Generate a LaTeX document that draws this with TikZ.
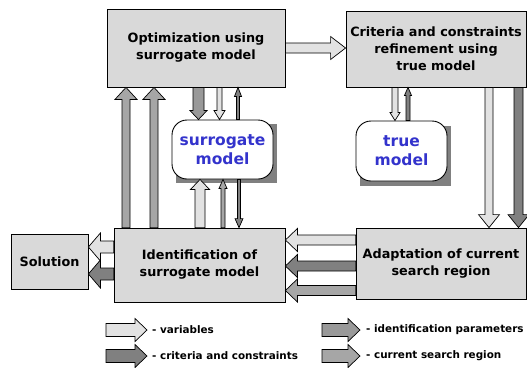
\documentclass[tikz,border=0pt]{standalone}
\usepackage{fontspec}
\setmainfont{DejaVu Sans}
\usetikzlibrary{calc, backgrounds}

\definecolor{boxgray}{HTML}{D9D9D9}
\definecolor{vargray}{HTML}{E2E2E2}
\definecolor{critgray}{HTML}{808080}
\definecolor{idgray}{HTML}{999999}
\definecolor{reggray}{HTML}{A6A6A6}
\definecolor{modelblue}{HTML}{3333CC}

\tikzset{
  box/.style={rectangle, draw=black, line width=0.8pt, fill=boxgray, align=center,
    inner sep=1pt, font=\bfseries\fontsize{12.8}{17}\selectfont},
  model/.style={rectangle, rounded corners=15pt, draw=black, line width=0.9pt, fill=white,
    align=center, text=modelblue, font=\bfseries\fontsize{15.5}{19}\selectfont},
  % block arrow: fill, half shaft, half head, head length
  blk/.style n args={4}{draw=black, line width=0.7pt, fill=#1,
    to path={let \p1=($(\tikztotarget)!#4!(\tikztostart)$) in
      ($(\tikztostart)!#2!90:(\tikztotarget)$) -- ($(\p1)!#2!90:(\tikztotarget)$)
      -- ($(\p1)!#3!90:(\tikztotarget)$) -- (\tikztotarget)
      -- ($(\p1)!#3!-90:(\tikztotarget)$) -- ($(\p1)!#2!-90:(\tikztotarget)$)
      -- ($(\tikztostart)!#2!-90:(\tikztotarget)$) -- cycle}},
  legend/.style={anchor=west, inner sep=0pt, font=\bfseries\fontsize{10.4}{12}\selectfont}
}

\begin{document}
\begin{tikzpicture}[x=1pt, y=-1pt]
\useasboundingbox (0,0) rectangle (527,367);

\node[box, minimum width=178, minimum height=78] (opt) at (196,48) {Optimization using\\surrogate model};
\node[box, minimum width=180, minimum height=76] (crit) at (436,49) {Criteria and constraints\\refinement using\\true model};
\node[box, minimum width=171, minimum height=74] (ident) at (199.5,265) {Identification of\\surrogate model};
\node[box, minimum width=170, minimum height=71] (adapt) at (441,263.5) {Adaptation of current\\search region};
\node[box, minimum width=77, minimum height=55] (sol) at (49.5,261.5) {Solution};
\node[model, minimum width=101, minimum height=59] (surr) at (222.5,149.5) {surrogate\\model};
\node[model, minimum width=91, minimum height=60] (truemodel) at (401.5,151) {true\\model};

\begin{scope}[on background layer]
  \fill[critgray] ([shift={(4,4)}]surr.south west) rectangle ([shift={(4,4)}]surr.north east);
  \fill[critgray] ([shift={(4,5)}]truemodel.south west) rectangle ([shift={(4,5)}]truemodel.north east);
\end{scope}

% arrow columns and rows
\foreach \n/\x in {up1/126, up2/154, od/198.5, ov/219.5, so/238, iv/200, ip/223, si/239,
                   ct/395, tc/408, cv/489, cc/518.5}
  \coordinate (\n) at (\x,0);
\foreach \n/\y in {av/240, ac/266, ar/290.5, sv/247, sc/274}
  \coordinate (\n) at (0,\y);

\draw[blk={vargray}{5pt}{11.5pt}{15pt}] (opt.east) to (crit.west |- opt.east);

\draw[blk={reggray}{4pt}{11pt}{12pt}] (ident.north -| up1) to (opt.south -| up1);
\draw[blk={reggray}{4pt}{11pt}{12pt}] (ident.north -| up2) to (opt.south -| up2);
\draw[blk={idgray}{5.5pt}{8.5pt}{9pt}] (opt.south -| od) to (surr.north -| od);
\draw[blk={vargray}{2.5pt}{5.5pt}{9pt}] (opt.south -| ov) to (surr.north -| ov);
\draw[blk={critgray}{1.5pt}{3.5pt}{9pt}] (surr.north -| so) to (opt.south -| so);
\draw[blk={vargray}{5pt}{9.5pt}{10pt}] (ident.north -| iv) to (surr.south -| iv);
\draw[blk={reggray}{2pt}{4pt}{9pt}] (ident.north -| ip) to (surr.south -| ip);
\draw[blk={critgray}{1.5pt}{4pt}{9pt}] (surr.south -| si) to (ident.north -| si);

\draw[blk={vargray}{3pt}{5pt}{8pt}] (crit.south -| ct) to (truemodel.north -| ct);
\draw[blk={critgray}{2pt}{3.5pt}{8pt}] (truemodel.north -| tc) to (crit.south -| tc);
\draw[blk={vargray}{4pt}{10.5pt}{13pt}] (crit.south -| cv) to (adapt.north -| cv);
\draw[blk={critgray}{4.5pt}{10.5pt}{13pt}] (crit.south -| cc) to (adapt.north -| cc);

\draw[blk={vargray}{5pt}{11.5pt}{12pt}] (adapt.west |- av) to (ident.east |- av);
\draw[blk={critgray}{5pt}{11.5pt}{12pt}] (adapt.west |- ac) to (ident.east |- ac);
\draw[blk={reggray}{5pt}{11.5pt}{12pt}] (adapt.west |- ar) to (ident.east |- ar);
\draw[blk={vargray}{6pt}{14pt}{12pt}] (ident.west |- sv) to (sol.east |- sv);
\draw[blk={critgray}{6pt}{14pt}{12pt}] (ident.west |- sc) to (sol.east |- sc);

% legend
\node[legend] (lvar) at (152,330) {- variables};
\node[legend] (lcrit) at (152,356) {- criteria and constraints};
\node[legend] (lid) at (366,330) {- identification parameters};
\node[legend] (lreg) at (366,356) {- current search region};
\draw[blk={vargray}{6.5pt}{11.5pt}{12pt}] ([xshift=-46]lvar.west) to ([xshift=-5]lvar.west);
\draw[blk={critgray}{6.5pt}{11.5pt}{12pt}] ([xshift=-46]lcrit.west) to ([xshift=-5]lcrit.west);
\draw[blk={idgray}{6.5pt}{11.5pt}{12pt}] ([xshift=-44]lid.west) to ([xshift=-6]lid.west);
\draw[blk={reggray}{6.5pt}{11.5pt}{12pt}] ([xshift=-44]lreg.west) to ([xshift=-6]lreg.west);
\end{tikzpicture}
\end{document}
